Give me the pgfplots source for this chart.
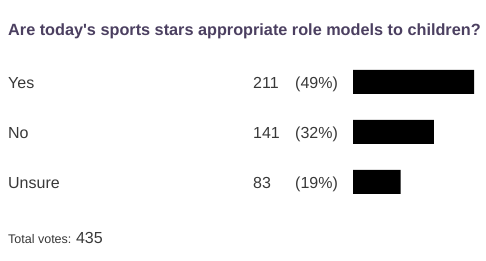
\documentclass[border=0pt]{standalone}
\usepackage{pgfplots}
\pgfplotsset{compat=1.18}
\usepackage{pgfplotstable}
\usepackage{fontspec}
\setmainfont{Liberation Sans}
\definecolor{titlecol}{HTML}{4B3F60}
\definecolor{textcol}{HTML}{383838}

% poll results: row index, answer, votes, share in percent
\pgfplotstableread{
idx label count pct
0 Yes 211 49
1 No 141 32
2 Unsure 83 19
}\votes

\begin{document}
\begin{tikzpicture}[x=1pt,y=1pt]
\useasboundingbox (0,0) rectangle (486,261);
\node[anchor=base west, text=titlecol, inner sep=0,
      font=\fontsize{16.25}{19}\selectfont\bfseries] at (8,225)
  {Are today\textquotesingle s sports stars appropriate role models to children?};
\begin{axis}[
  at={(353pt,54pt)}, anchor=south west,
  scale only axis, width=121pt, height=150pt,
  xmin=0, xmax=211, ymin=-0.5, ymax=2.5,
  y dir=reverse, hide axis, clip=false,
  every node near coord/.style={anchor=base west, inner sep=0, text=textcol,
    font=\fontsize{16}{19}\selectfont, yshift=-7pt},
]
% bars, length proportional to the vote count
\addplot[xbar, bar width=24pt, bar shift=0pt, fill=black, draw=none]
  table[x=count, y=idx] {\votes};
% answer names at the left margin
\addplot[only marks, mark=none, point meta=explicit symbolic,
  nodes near coords, nodes near coords style={xshift=-345pt}]
  table[x expr=0, y=idx, meta=label] {\votes};
% vote counts
\addplot[only marks, mark=none, point meta=explicit symbolic,
  nodes near coords, nodes near coords style={xshift=-100pt}]
  table[x expr=0, y=idx, meta=count] {\votes};
% percentages
\addplot[only marks, mark=none, point meta=explicit symbolic,
  nodes near coords={(\pgfplotspointmeta\%)}, nodes near coords style={xshift=-58pt}]
  table[x expr=0, y=idx, meta=pct] {\votes};
\end{axis}
\node[anchor=base west, inner sep=0, text=textcol] at (8,17)
  {{\fontsize{12.5}{15}\selectfont Total votes: }{\fontsize{16}{19}\selectfont 435}};
\end{tikzpicture}
\end{document}
